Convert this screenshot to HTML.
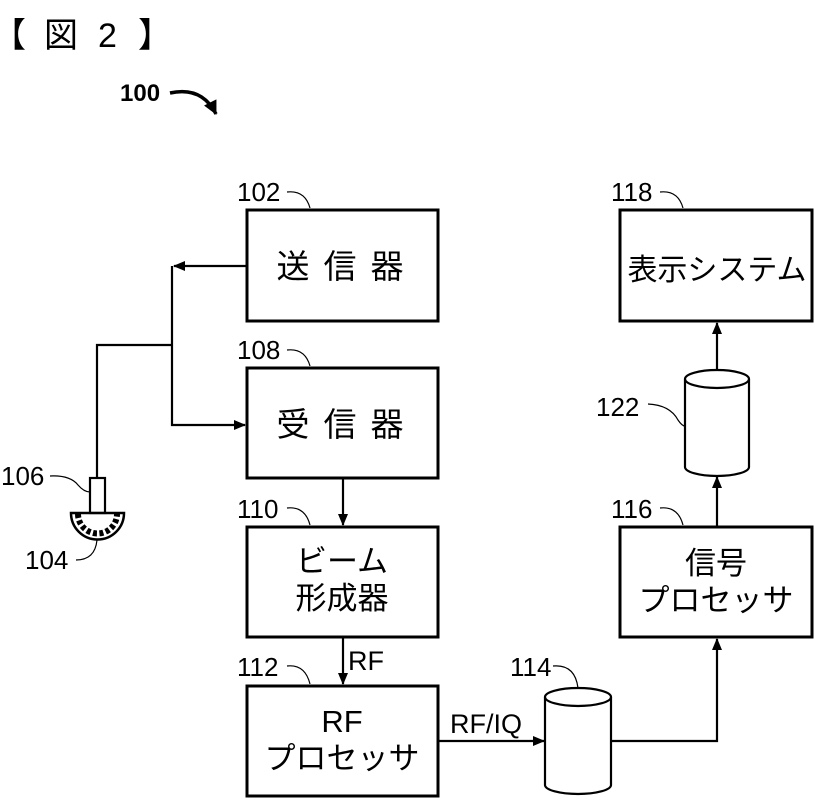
<!DOCTYPE html>
<html><head><meta charset="utf-8"><style>
html,body{margin:0;padding:0;background:#fff;}
svg{display:block;}
text{font-family:"Liberation Sans","Noto Sans CJK JP",sans-serif;fill:#000;}
</style></head><body>
<svg width="815" height="800" viewBox="0 0 815 800" xmlns="http://www.w3.org/2000/svg">
<defs>
<marker id="ah" markerWidth="12" markerHeight="12" refX="11" refY="6" orient="auto" markerUnits="userSpaceOnUse">
<path d="M0,1 L12,6 L0,11 z" fill="#000"/></marker>
<marker id="ah2" markerWidth="14" markerHeight="14" refX="13" refY="7" orient="auto" markerUnits="userSpaceOnUse">
<path d="M0,0 L14,7 L0,14 z" fill="#000"/></marker>
</defs>
<g font-size="34"><text x="-8" y="47">【</text><text x="44" y="47">図</text><text x="98" y="47">2</text><text x="138" y="47">】</text></g>
<text x="120" y="101" font-size="24" font-weight="bold">100</text>
<path d="M170,93 Q202,86 216,114" fill="none" stroke="#000" stroke-width="3.5" marker-end="url(#ah2)"/>

<g fill="none" stroke="#000" stroke-width="3">
<rect x="247" y="210" width="191" height="111"/>
<rect x="247" y="368" width="191" height="110"/>
<rect x="247" y="527" width="191" height="110"/>
<rect x="247" y="686" width="191" height="110"/>
<rect x="620" y="210" width="192" height="111"/>
<rect x="620" y="527" width="192" height="110"/>
</g>
<g fill="none" stroke="#000" stroke-width="2.2">
<path d="M685,379 L685,467 A32,9 0 0 0 749,467 L749,379"/>
<ellipse cx="717" cy="379" rx="32" ry="9"/>
<path d="M545,697 L545,785 A33,9 0 0 0 611,785 L611,697"/>
<ellipse cx="578" cy="697" rx="33" ry="9"/>
<line x1="247" y1="266" x2="174" y2="266" marker-end="url(#ah)"/>
<polyline points="172,266 172,425 245,425" marker-end="url(#ah)"/>
<polyline points="172,345 97,345 97,478"/>
<line x1="343" y1="478" x2="343" y2="525" marker-end="url(#ah)"/>
<line x1="343" y1="637" x2="343" y2="684" marker-end="url(#ah)"/>
<line x1="438" y1="741" x2="544" y2="741" marker-end="url(#ah)"/>
<polyline points="611,741 717,741 717,639" marker-end="url(#ah)"/>
<line x1="717" y1="527" x2="717" y2="477" marker-end="url(#ah)"/>
<line x1="717" y1="370" x2="717" y2="323" marker-end="url(#ah)"/>
<rect x="90" y="478" width="15" height="35"/>
<path d="M71,513 L124,513 A26.5,26.5 0 0 1 71,513 z" stroke-width="2.5"/>
<path d="M78,514 A19.5,19.5 0 0 0 117,514" stroke-width="6" stroke-dasharray="4,2.5"/>
</g>
<g fill="none" stroke="#000" stroke-width="1.2">
<path d="M287,192 Q305,190 310,208"/>
<path d="M287,350 Q305,348 310,366"/>
<path d="M287,508 Q305,506 310,525"/>
<path d="M287,666 Q305,664 310,684"/>
<path d="M660,192 Q678,190 683,208"/>
<path d="M660,508 Q678,506 683,525"/>
<path d="M553,666 Q575,664 578,688"/>
<path d="M648,404 Q670,405 678,420 Q682,426 685,426"/>
<path d="M50,476 Q70,475 78,485 Q84,492 90,492"/>
<path d="M76,560 Q95,560 97,540"/>
</g>
<g font-size="26">
<text x="237" y="201">102</text>
<text x="237" y="359">108</text>
<text x="237" y="518">110</text>
<text x="237" y="676">112</text>
<text x="611" y="201">118</text>
<text x="611" y="518">116</text>
<text x="596" y="416">122</text>
<text x="510" y="676">114</text>
<text x="1" y="485">106</text>
<text x="25" y="569">104</text>
<text x="348" y="670" font-size="27">RF</text>
<text x="450" y="733" font-size="27">RF/IQ</text>
</g>
<g font-size="33" text-anchor="middle">
<text x="347" y="278" letter-spacing="14">送信器</text>
<text x="347" y="436" letter-spacing="14">受信器</text>
</g>
<text x="717" y="280" font-size="30" text-anchor="middle">表示システム</text>
<g font-size="31" text-anchor="middle">
<text x="342" y="572">ビーム</text>
<text x="342" y="609">形成器</text>
<text x="342" y="732">RF</text>
<text x="342" y="769">プロセッサ</text>
<text x="716" y="574">信号</text>
<text x="716" y="611">プロセッサ</text>
</g>
</svg>
</body></html>
